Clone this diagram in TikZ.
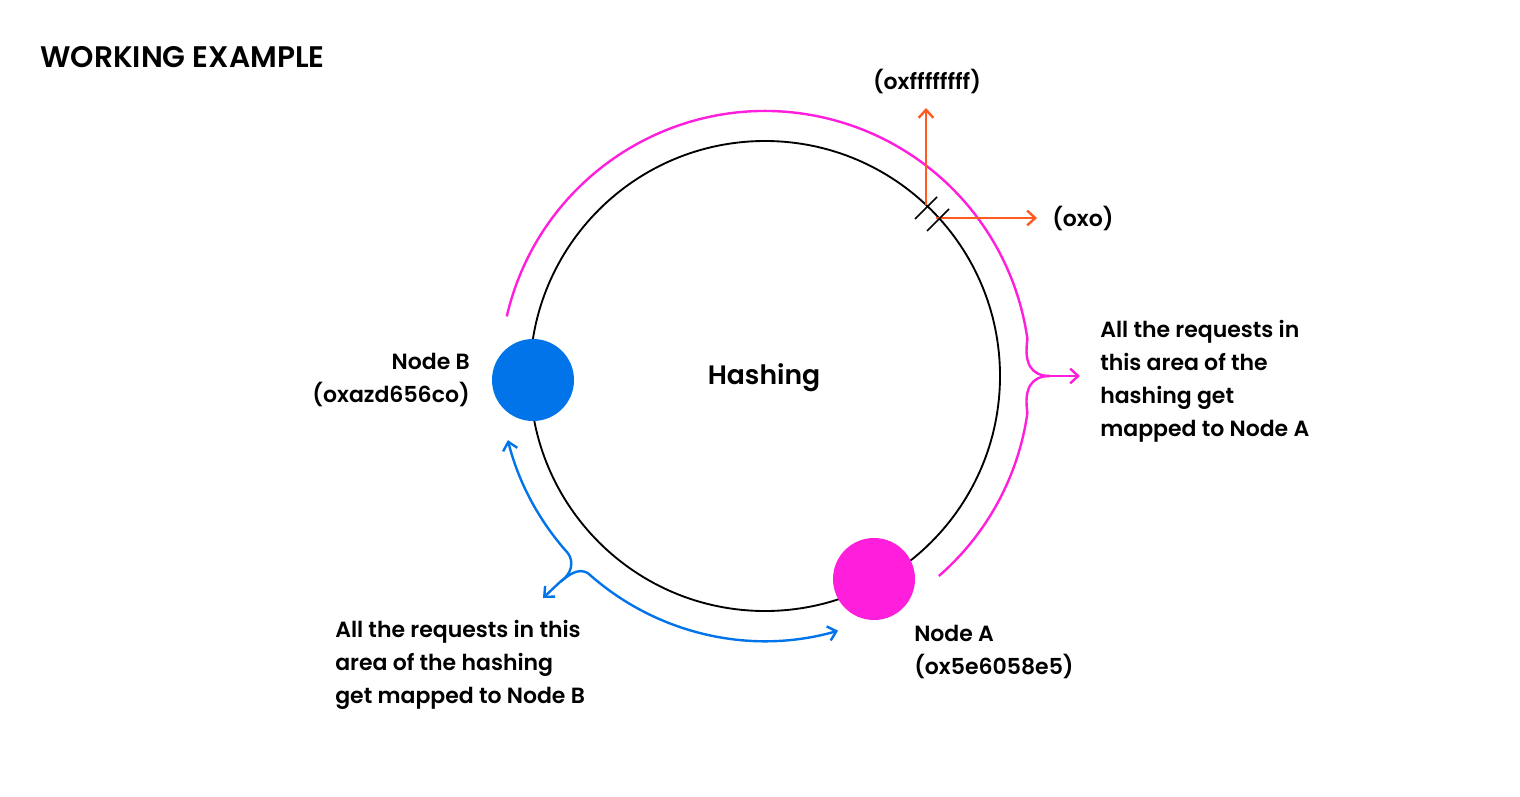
\documentclass[tikz,border=0pt]{standalone}
\usepackage{fontspec}
\setmainfont{Poppins}[UprightFont=* SemiBold,BoldFont=* Bold]
\usetikzlibrary{arrows.meta,calc}
\definecolor{mag}{HTML}{FF1EDC}
\definecolor{blu}{HTML}{0074E8}
\definecolor{ora}{HTML}{FF5A1F}
\begin{document}
\begin{tikzpicture}[x=0.75pt,y=-0.75pt,
  lbl/.style={font=\fontsize{16.5}{24.75}\selectfont,align=left,inner sep=0pt},
  arr/.style={line width=1.8pt,-{Straight Barb[length=6pt,width=11pt]}}]
\useasboundingbox (0,0) rectangle (1520,796);
\node[anchor=west,inner sep=0pt,font=\fontsize{22.3}{24}\selectfont] (title) at (40,57) {WORKING EXAMPLE};
\coordinate (c) at (765,376);
\draw[line width=1.4pt] (c) circle (235);
% magenta arc
\draw[mag,line width=1.8pt] ($(c)+(-167:265)$) arc[start angle=-167,end angle=-8,radius=265]
  .. controls (1024,362) and (1030,376) .. (1050,376);
\draw[mag,arr] (1040,376) -- (1080,376);
\draw[mag,line width=1.8pt] (1050,376) .. controls (1030,376) and (1024,390) .. (1027.4,412.9)
  arc[start angle=8,end angle=49,radius=265];
% blue arc
\draw[blu,line width=1.8pt,{Straight Barb[length=6pt,width=11pt]}-] ($(c)+(166:265)$) arc[start angle=166,end angle=138,radius=265] coordinate (b1);
\draw[blu,line width=1.8pt] (b1) .. controls (574,562) and (572,574) .. (560,582);
\draw[blu,arr] (560,582) -- (543,598);
\draw[blu,line width=1.8pt,-{Straight Barb[length=6pt,width=11pt]}] (560,582) .. controls (570,574) and (578,568) .. ($(c)+(132:265)$) arc[start angle=132,end angle=74,radius=265];
% nodes
\node[circle,fill=blu,minimum size=61.5pt,inner sep=0pt] (nb) at (533,380) {};
\node[circle,fill=mag,minimum size=61.5pt,inner sep=0pt] (na) at (874,579) {};
% orange
\coordinate (o1) at (926,205);
\coordinate (o2) at (936,218);
\draw[ora,arr] (o1) -- (926,108);
\draw[ora,arr] (o2) -- (1037,218);
\draw[line width=1.2pt] (915,219) -- (937,197);
\draw[line width=1.2pt] (927,231) -- (949,209);
% text
\node[lbl,anchor=center] (ff) at (927,82) {(oxffffffff)};
\node[lbl,anchor=west] (zero) at (1052,218) {(oxo)};
\node[lbl,anchor=center,font=\fontsize{20}{24}\selectfont] (hash) at (764,378) {Hashing};
\node[lbl,anchor=east,align=right] (tb) at (470,380) {Node B\\(oxazd656co)};
\node[lbl,anchor=north west] (ta) at (1100,320) {All the requests in\\this area of the\\hashing get\\mapped to Node A};
\node[lbl,anchor=north west] (tna) at (914,625) {Node A\\(ox5e6058e5)};
\node[lbl,anchor=north west] (tbb) at (335,620) {All the requests in this\\area of the hashing\\get mapped to Node B};
\end{tikzpicture}
\end{document}
